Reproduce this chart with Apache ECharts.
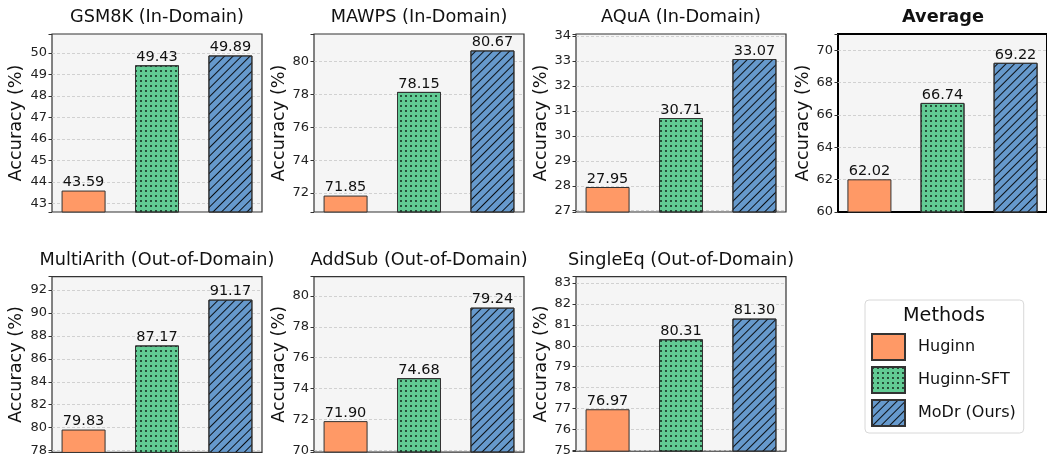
<!DOCTYPE html>
<html><head><meta charset="utf-8">
<script src="https://cdn.jsdelivr.net/npm/echarts@6/dist/echarts.min.js"></script>
<style>html,body{margin:0;padding:0;background:#fff}#c{width:1047px;height:457px}</style>
</head><body><div id="c"></div>
<script>
// ---- data ----
const methods = ['Huginn', 'Huginn-SFT', 'MoDr (Ours)'];
const datasets = ['GSM8K (In-Domain)', 'MAWPS (In-Domain)', 'AQuA (In-Domain)', 'Average',
                  'MultiArith (Out-of-Domain)', 'AddSub (Out-of-Domain)', 'SingleEq (Out-of-Domain)'];
const huginn    = [43.59, 71.85, 27.95, 62.02, 79.83, 71.90, 76.97];
const huginnSFT = [49.43, 78.15, 30.71, 66.74, 87.17, 74.68, 80.31];
const modr      = [49.89, 80.67, 33.07, 69.22, 91.17, 79.24, 81.30];
const yMin  = [42.59, 70.85, 26.95, 60, 77.83, 69.90, 74.97];
const yMax  = [50.89, 81.67, 34.07, 71, 93.17, 81.24, 83.30];
const yStep = [1, 2, 1, 2, 2, 2, 1];
const yAxisTitle = 'Accuracy (%)';
const legendTitle = 'Methods';

// ---- layout / style ----
const FONT = 'DejaVu Sans';
const colLeft = [52, 314, 576, 838];
const rowTop = [34, 276.7];
const gridW = 210, gridH = 178;
const nameGaps = [26.2, 22, 24, 25, 26.6, 25, 26];
const seriesValues = [huginn, huginnSFT, modr];
const styles = [
  { color: '#FF9966', borderColor: '#333', borderWidth: 1 },
  { color: '#62CB94', borderColor: '#333', borderWidth: 1,
    decal: { symbol: 'circle', symbolSize: 0.9, dashArrayX: [2, 3], dashArrayY: [2, 3], color: 'rgba(0,0,0,0.9)' } },
  { color: '#6699CC', borderColor: '#333', borderWidth: 1,
    decal: { symbol: 'rect', symbolSize: 1, dashArrayX: [1, 0], dashArrayY: [1, 5], rotation: -Math.PI / 4, color: 'rgba(0,0,0,0.9)' } }
];

const grid = [], xAxis = [], yAxis = [], series = [], title = [];
datasets.forEach((name, i) => {
  const row = i < 4 ? 0 : 1;
  const col = i < 4 ? i : i - 4;
  const left = colLeft[col], top = rowTop[row];
  const isAvg = name === 'Average';
  grid.push({ left, top, width: gridW, height: gridH, show: true, backgroundColor: '#f5f5f5',
              borderColor: isAvg ? '#000' : '#333', borderWidth: isAvg ? 2 : 1.2, containLabel: false });
  xAxis.push({ gridIndex: i, type: 'value', min: -0.43, max: 2.43, show: false });
  const step = yStep[i];
  yAxis.push({
    gridIndex: i, type: 'value', position: 'left', min: yMin[i], max: yMax[i], minInterval: step, maxInterval: step,
    name: yAxisTitle, nameLocation: 'middle', nameGap: nameGaps[i],
    nameTextStyle: { fontFamily: FONT, fontSize: 17.7, color: '#111' },
    axisLine: { show: false, onZero: false },
    axisTick: { show: true, length: 3.5, lineStyle: { color: '#333', width: 1 } },
    axisLabel: { fontFamily: FONT, fontSize: 13, color: '#222', margin: 5,
      formatter: v => Math.abs(v / step - Math.round(v / step)) < 1e-6 ? String(Math.round(v)) : '' },
    splitLine: { show: true, showMinLine: false, showMaxLine: false,
                 lineStyle: { color: '#c8c8c8', width: 0.8, type: [3, 2] } }
  });
  title.push({ text: name, left: left + gridW / 2, top: top - 25.4, textAlign: 'center', padding: 0,
    textStyle: { fontFamily: FONT, fontSize: 17.7, fontWeight: isAvg ? 'bold' : 'normal', color: '#111' } });
  methods.forEach((m, k) => {
    series.push({
      type: 'bar', name: m, xAxisIndex: i, yAxisIndex: i, barWidth: 44, barGap: '-100%', clip: true,
      data: [[k, seriesValues[k][i]]],
      itemStyle: styles[k],
      label: { show: true, position: 'top', distance: 0.5, fontFamily: FONT, fontSize: 14.5, color: '#111',
               formatter: p => p.value[1].toFixed(2) },
      emphasis: { disabled: true }, animation: false
    });
  });
});

title.push({ text: legendTitle, left: 944, top: 306.4, textAlign: 'center', padding: 0,
  textStyle: { fontFamily: FONT, fontSize: 19.2, fontWeight: 'normal', color: '#111' } });

const chart = echarts.init(document.getElementById('c'), null, { renderer: 'canvas' });
chart.setOption({
  animation: false,
  title, grid, xAxis, yAxis, series,
  legend: {
    data: methods, orient: 'vertical', left: 865, top: 300,
    padding: [33, 8, 6, 6], itemWidth: 33, itemHeight: 26, itemGap: 5, icon: 'rect',
    borderColor: '#d8d8d8', borderWidth: 1, borderRadius: 4, backgroundColor: 'rgba(255,255,255,0.8)',
    textStyle: { fontFamily: FONT, fontSize: 16, color: '#111', padding: [0, 0, 0, 8] },
    selectedMode: false
  }
});
</script></body></html>
